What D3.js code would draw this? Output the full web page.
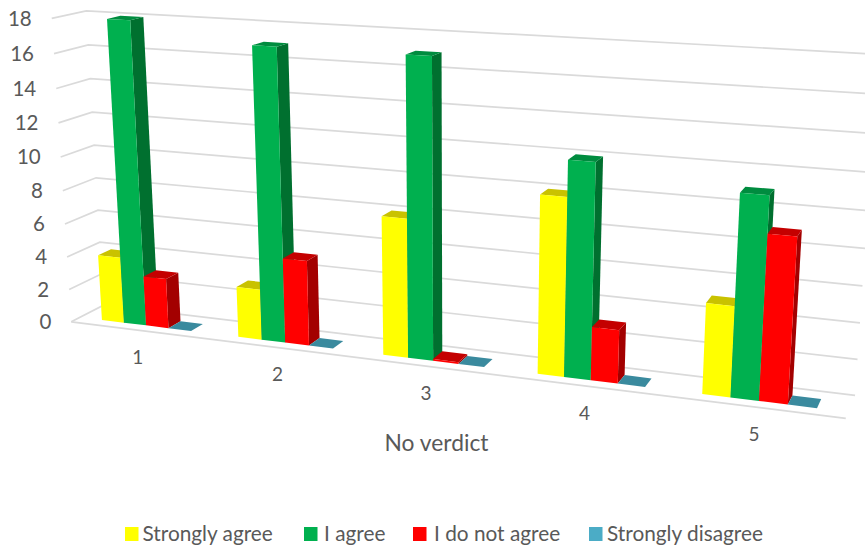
<!DOCTYPE html>
<html><head><meta charset="utf-8">
<script src="https://cdn.jsdelivr.net/npm/d3@7"></script>
<style>html,body{margin:0;padding:0;background:#fff;overflow:hidden}svg{display:block}text{font-family:Lato,"Open Sans",sans-serif;fill:#595959}</style>
</head><body><svg id="c" width="865" height="546"></svg>
<script>
const categories = ["1","2","3","4","5"];
const seriesNames = ["Strongly agree","I agree","I do not agree","Strongly disagree"];
const stronglyAgree = [4,3,8,10,5];
const iAgree = [18,17,17,12,11];
const iDoNotAgree = [3,5,0.1,3,9];
const stronglyDisagree = [0,0,0,0,0];
const valueTicks = [0,2,4,6,8,10,12,14,16,18];
const xTitle = "No verdict";

const seriesValues = [stronglyAgree,iAgree,iDoNotAgree,stronglyDisagree];
const palette = [
  {front:"#FFFF00",top:"#C9C200",side:"#A8A000",legend:"#FFFF00"},
  {front:"#00B04F",top:"#008C3F",side:"#00702F",legend:"#00B04F"},
  {front:"#FF0000",top:"#C40000",side:"#A30000",legend:"#FF0000"},
  {front:"#4BACC6",top:"#3A8A9E",side:"#2E6F80",legend:"#4BACC6"}
];

// scales in scene space
const uScale = d3.scaleLinear().domain([0,categories.length]).range([0,1]);
const vScale = d3.scaleLinear().domain([0,18]).range([0,1]);

// camera calibration: scene anchors (u,v,d) -> page pixels, solved as a projective camera
const anchors = [
 [0,0,0,72,321.5],[0,18,0,50,19],[0,0,1,102,306],[0,18,1,88,10.5],
 [5,0,1,855,395],[5,18,1,878,54],[5,0,0,846,419],
 [.5,0,0,139,329.5],[2.5,0,0,428,366],[4.5,0,0,756,407.5]
];
function solveCamera(){
  const rows=[],rhs=[];
  anchors.forEach(([u,v,d,X,Y])=>{
    const U=uScale(u),V=vScale(v);
    rows.push([U,V,d,1,0,0,0,0,-X*U,-X*V,-X*d]);rhs.push(X);
    rows.push([0,0,0,0,U,V,d,1,-Y*U,-Y*V,-Y*d]);rhs.push(Y);
  });
  const n=11,A=d3.range(n).map(i=>d3.range(n+1).map(j=>0));
  rows.forEach((r,k)=>{for(let i=0;i<n;i++){for(let j=0;j<n;j++)A[i][j]+=r[i]*r[j];A[i][n]+=r[i]*rhs[k];}});
  for(let c=0;c<n;c++){
    let p=c;for(let r=c+1;r<n;r++)if(Math.abs(A[r][c])>Math.abs(A[p][c]))p=r;
    [A[c],A[p]]=[A[p],A[c]];
    for(let r=0;r<n;r++){if(r===c)continue;const f=A[r][c]/A[c][c];for(let j=c;j<=n;j++)A[r][j]-=f*A[c][j];}
  }
  return A.map((r,i)=>r[n]/r[i]);
}
const m=solveCamera();
function P(u,v,d){
  const U=uScale(u),V=vScale(v),w=m[8]*U+m[9]*V+m[10]*d+1;
  return [(m[0]*U+m[1]*V+m[2]*d+m[3])/w,(m[4]*U+m[5]*V+m[6]*d+m[7])/w];
}

const svg=d3.select("#c");
const line=d3.line();
const gridColor="#DADADA";
const n=categories.length;

// gridlines
svg.append("g").selectAll("path").data(valueTicks).join("path")
  .attr("d",v=>line([P(0,v,0),P(0,v,1),P(n,v,1)]))
  .attr("fill","none").attr("stroke",gridColor).attr("stroke-width",1.7);
svg.append("path").attr("d",line([P(0,0,0),P(n,0,0)])).attr("fill","none").attr("stroke",gridColor).attr("stroke-width",1.7);

// bars
const barStart=0.165,barWidth=0.165,dFront=0.27,dBack=0.67;
const bars=[];
categories.forEach((c,i)=>seriesValues.forEach((vals,s)=>{
  bars.push({u0:i+barStart+s*barWidth,u1:i+barStart+(s+1)*barWidth,v:vals[i],s});
}));
const faces=svg.append("g").selectAll("g").data(bars).join("g");
faces.append("path").attr("d",b=>line([P(b.u1,0,dFront),P(b.u1,0,dBack),P(b.u1,b.v,dBack),P(b.u1,b.v,dFront)])+"Z")
  .attr("fill",b=>palette[b.s].side);
faces.append("path").attr("d",b=>line([P(b.u0,b.v,dFront),P(b.u1,b.v,dFront),P(b.u1,b.v,dBack),P(b.u0,b.v,dBack)])+"Z")
  .attr("fill",b=>palette[b.s].top);
faces.append("path").attr("d",b=>line([P(b.u0,0,dFront),P(b.u1,0,dFront),P(b.u1,b.v,dFront),P(b.u0,b.v,dFront)])+"Z")
  .attr("fill",b=>palette[b.s].front);

// value axis labels
svg.append("g").selectAll("text").data(valueTicks).join("text")
  .attr("x",v=>P(0,v,0)[0]-20).attr("y",v=>P(0,v,0)[1]+2)
  .attr("text-anchor","end").attr("dominant-baseline","middle").attr("font-size",20.5).text(v=>v);
// category labels
svg.append("g").selectAll("text").data(categories).join("text")
  .attr("x",(c,i)=>P(i+.5,0,0)[0]-0.5-i*0.5).attr("y",(c,i)=>P(i+.5,0,0)[1]+29)
  .attr("text-anchor","middle").attr("dominant-baseline","middle").attr("font-size",19).text(c=>c);
svg.append("text").attr("x",436.5).attr("y",445).attr("text-anchor","middle").attr("dominant-baseline","middle").attr("font-size",22.8).text(xTitle);

// legend
const legendX=[125,304,413,589];
const lg=svg.append("g").selectAll("g").data(seriesNames).join("g").attr("transform",(d,i)=>`translate(${legendX[i]},527)`);
lg.append("rect").attr("width",13.5).attr("height",14).attr("fill",(d,i)=>palette[i].legend);
lg.append("text").attr("x",(d,i)=>i==0?17.5:i==1?20:i==2?21:18).attr("y",13.5).attr("font-size",20.8).text(d=>d);
</script></body></html>
